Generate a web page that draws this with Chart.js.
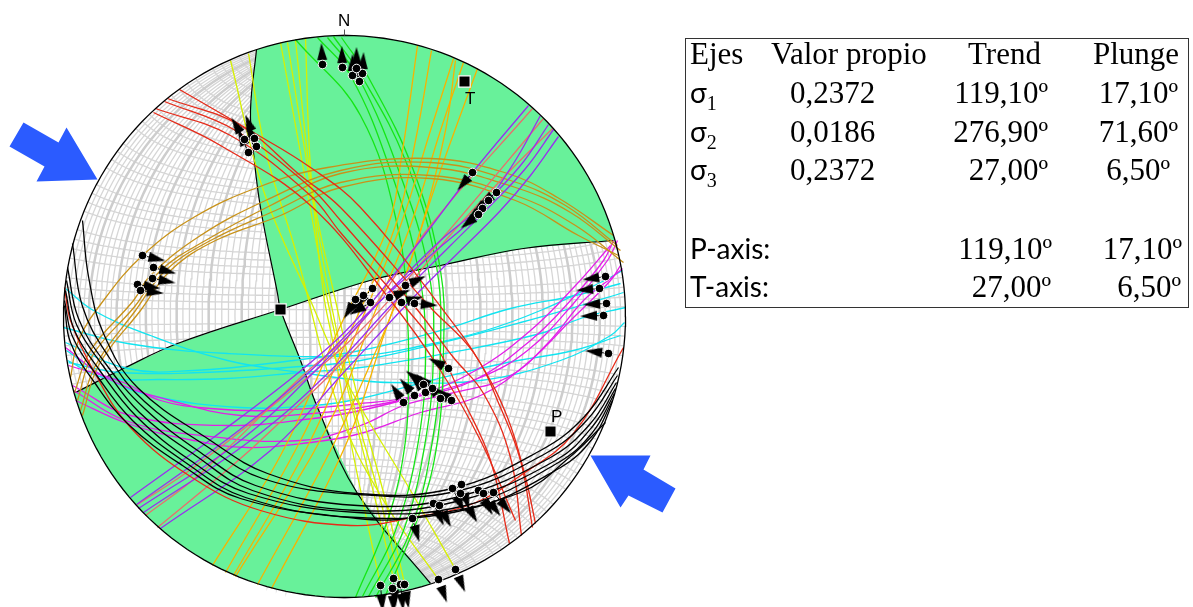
<!DOCTYPE html>
<html>
<head>
<meta charset="utf-8">
<title>Estereograma</title>
<script src="https://cdn.jsdelivr.net/npm/chart.js@4"></script>
<style>
  html, body { margin: 0; background: #fff; }
  #wrap { position: relative; width: 1193px; height: 607px; overflow: hidden; }
  #wrap span { position: absolute; white-space: pre; color: #000; }
  #box { position: absolute; left: 685px; top: 38px; width: 502px; height: 268px; border: 1.5px solid #333; }
  .serif { font-family: "Liberation Serif", serif; font-size: 31px; }
  .sans { font-family: "Lato", sans-serif; font-size: 28px; }
  .net { font-family: "Liberation Sans", sans-serif; font-size: 17px; }
  sub { font-size: 20px; line-height: 0; font-family: "Liberation Serif", serif; }
</style>
</head>
<body>
<div id="wrap">
  <canvas id="net" width="1193" height="607"></canvas>
  <div id="box"></div>
</div>
<script>
// fault planes, net units: centre 0,0, primitive radius 281, [x, y] pairs
const blackPlanes = [
  [[-262,96],[-256,40],[-241,-17],[-207,-71],[-134,-124],[-77,-157],[13,-177],[108,-172],[196,-134],[240,-100],[274,-51]],
  [[-272,73],[-262,10],[-236,-40],[-200,-85],[-139,-129],[-82,-162],[13,-178],[111,-175],[201,-137],[243,-103],[273,-59]],
  [[-277,49],[-266,-2],[-239,-47],[-200,-92],[-144,-136],[-89,-169],[13,-189],[111,-181],[206,-141],[246,-107],[272,-66]],
  [[-278,36],[-268,-8],[-241,-50],[-205,-96],[-149,-139],[-92,-174],[13,-194],[116,-184],[211,-144],[248,-110],[271,-72]],
  [[-279,26],[-270,-14],[-244,-55],[-208,-100],[-154,-144],[-96,-177],[13,-196],[121,-189],[214,-146],[248,-116],[270,-77]],
  [[-280,16],[-272,-20],[-247,-60],[-212,-104],[-159,-146],[-99,-181],[13,-201],[126,-192],[216,-151],[248,-122],[268,-84]],
  [[-280,11],[-274,-26],[-250,-66],[-216,-108],[-162,-149],[-104,-182],[13,-202],[68,-201],[176,-176],[226,-140],[261,-106]]
];
const redPlanes = [
  [[-165,227],[-91,184],[-34,149],[16,109],[99,6],[136,-47],[163,-101],[181,-161],[191,-207]],
  [[-177,218],[-104,191],[-44,141],[-4,109],[86,9],[129,-36],[156,-91],[176,-144],[188,-211]],
  [[-180,215],[-109,186],[-34,129],[-4,96],[71,9],[109,-41],[139,-77],[166,-141],[177,-219]],
  [[-189,208],[-114,181],[-34,121],[-4,84],[61,9],[93,-32],[119,-84],[146,-144],[165,-227]],
  [[-191,204],[-124,171],[-34,111],[46,16],[96,-54],[136,-124],[171,-204]],
  [[-280,29],[-274,-4],[-251,-54],[-214,-111],[-151,-162],[-84,-194],[6,-209],[68,-201],[129,-187],[176,-159],[229,-117],[279,-31]]
];
const cyanPlanes = [
  [[-281,-11],[-217,-27],[-117,-37],[16,-39],[79,-29],[141,-14],[196,6],[256,34],[278,46]],
  [[-279,-26],[-217,-52],[-151,-54],[-51,-44],[16,-34],[96,-14],[166,8],[231,21],[276,33]],
  [[-277,-44],[-241,-61],[-184,-63],[-117,-62],[-44,-56],[16,-51],[106,-36],[196,-17],[239,-1],[281,9]],
  [[-279,28],[-251,6],[-194,-19],[-117,-44],[-44,-56],[16,-64],[46,-66],[136,-64],[216,-44],[266,-19],[280,-6]],
  [[-278,-34],[-237,-62],[-194,-79],[-104,-91],[-31,-89],[16,-82],[86,-64],[163,-46],[229,-34],[276,-19]],
  [[-276,-46],[-224,-56],[-144,-56],[-44,-50],[16,-44],[106,-24],[176,-6],[236,11],[279,24]]
];
const magentaPlanes = [
  [[-279,-31],[-237,-62],[-174,-84],[-104,-99],[-31,-97],[16,-91],[69,-81],[129,-64],[186,-24],[226,16],[259,56],[269,76]],
  [[-272,-69],[-214,-99],[-117,-109],[-31,-102],[16,-94],[76,-79],[136,-61],[183,-34],[229,13],[263,56],[273,76]],
  [[-271,-74],[-219,-104],[-144,-119],[-44,-124],[16,-109],[59,-89],[106,-77],[163,-61],[203,-27],[239,16],[266,38],[278,48]],
  [[-269,-84],[-217,-107],[-151,-124],[-97,-131],[-34,-126],[16,-117],[76,-96],[136,-79],[186,-44],[226,-4],[266,36],[276,51]],
  [[-276,-49],[-221,-66],[-184,-84],[-134,-92],[-71,-94],[16,-87],[71,-79],[131,-54],[186,-14],[231,31],[266,71]]
];
const purplePlanes = [
  [[-214,-181],[-131,-121],[-41,-52],[13,-2],[76,76],[128,144],[184,211]],
  [[-208,-188],[-119,-124],[-39,-59],[26,6],[86,61],[133,103],[169,153],[196,201]],
  [[-206,-192],[-104,-124],[-24,-49],[41,21],[96,76],[138,111],[176,151],[204,192]],
  [[-201,-196],[-94,-124],[-19,-59],[51,16],[106,71],[146,111],[181,148],[209,187]],
  [[-184,-212],[-74,-134],[1,-54],[66,16],[116,66],[156,106],[186,141],[214,180]]
];
const salmonPlanes = [
  [[-199,-199],[-144,-157],[-44,-61],[16,-7],[86,91],[188,208]],
  [[-207,-188],[-151,-151],[-57,-77],[16,-14],[96,76],[199,198]],
  [[-187,-211],[-124,-159],[-84,-124],[16,-27],[101,76],[156,136],[208,188]]
];
const orangePlanes = [
  [[-132,-249],[-64,-139],[-4,-9],[43,89],[58,166],[73,271]],
  [[-119,-256],[-44,-124],[11,-4],[51,91],[71,176],[87,266]],
  [[-111,-259],[-34,-124],[21,6],[56,91],[86,186],[109,258]],
  [[-109,-260],[-19,-114],[31,6],[66,91],[96,186],[119,254]],
  [[-87,-268],[-14,-134],[36,-24],[56,26],[96,146],[133,248]],
  [[-73,-272],[1,-129],[41,-14],[76,86],[101,186],[111,256]]
];
const goldPlanes = [
  [[-274,-61],[-266,-24],[-241,16],[-202,61],[-151,99],[-87,129],[-17,149],[86,158],[163,143],[213,119],[269,81]],
  [[-270,-76],[-254,-34],[-211,16],[-194,41],[-144,81],[-79,116],[-4,146],[86,154],[166,136],[221,111],[273,71]],
  [[-267,-84],[-252,-39],[-209,11],[-184,46],[-139,76],[-74,111],[-4,143],[86,149],[171,129],[226,104],[276,66]],
  [[-264,-94],[-249,-49],[-209,6],[-179,46],[-134,76],[-69,106],[-4,134],[86,141],[171,121],[231,91],[279,54]],
  [[-262,-99],[-246,-49],[-204,6],[-174,46],[-129,76],[-64,101],[-4,129],[86,138],[171,116],[234,81],[274,61]]
];
const yellowPlanes = [
  [[-114,256],[-81,126],[-34,16],[3,-67],[66,-174],[111,-253]],
  [[-96,263],[-79,166],[-49,66],[-4,-97],[39,-184],[94,-263]],
  [[-64,274],[-39,136],[-19,26],[6,-84],[31,-184],[49,-262]],
  [[-57,274],[-34,131],[-14,16],[8,-84],[36,-184],[56,-268]],
  [[-49,276],[-32,126],[-9,16],[14,-84],[41,-184],[60,-267]],
  [[-39,278],[-34,149],[-21,23],[-12,-24],[6,-124],[36,-269]]
];
const greenPlanes = [
  [[-49,277],[16,201],[54,86],[63,-4],[64,-51],[61,-124],[44,-201],[11,-281]],
  [[-27,279],[6,241],[46,146],[74,46],[81,-34],[74,-124],[51,-214],[18,-280]],
  [[-17,279],[14,239],[56,141],[84,46],[89,-34],[81,-124],[59,-214],[24,-280]],
  [[-11,280],[18,239],[61,156],[91,56],[96,-34],[88,-124],[66,-214],[31,-281]],
  [[-3,279],[24,239],[69,146],[96,46],[99,-34],[93,-124],[76,-194],[41,-279]]
];

// nodal planes that bound the green lunes
const nodalNS = [[-88,267],[-94,206],[-91,164],[-84,109],[-67,23],[-64,7],[-44,-44],[-27,-91],[13,-177],[86,-267]];
const nodalEW = [[-269,-76],[-221,-52],[-167,-27],[-64,7],[29,37],[96,51],[179,68],[269,76]];

// slip data: dot position, trend of the arrow (deg), arrow length
const slipX = [-22,-2,8,15,18,12, -100,-90,-88,-96, -202,-191,-192,-207,-204, 128,152,144,138,134, 11,28,19,26,45,61,57,70, 104,79,70,81,59,96,107,88, 261,255,262,259,264, 108,117,116,134,139,149,89,95,68, 36,49,48,56,60,94,111];
const slipY = [252,249,241,235,243,248, 177,178,170,164, 61,49,38,32,26, 144,124,116,108,102, 17,28,21,14,19,31,14,13, -52,-68,-79,-76,-86,-82,-84,-72, 40,28,13,1,-37, -172,-168,-177,-174,-177,-176,-187,-189,-202, -269,-262,-272,-268,-268,-263,-253];
const slipTrend = [357,358,0,357,3,0, 329,339,336,335, 103,105,101,100,97, 220,234,230,230,232, 211,225,222,240,70,65,75,95, 297,308,319,320,326,318,307,310, 262,265,267,268,277, 153,163,150,150,143,140,155,152,164, 175,176,177,174,170,160,157];
const slipLength = [21,21,21,21,21,21, 25,25,25,25, 23,23,23,23,23, 23,22,22,22,22, 22,26,24,24,22,22,22,23, 22,22,22,22,22,22,20,22, 23,23,23,23,23, 26,26,33,28,28,27,24,24,24, 26,28,24,26,24,24,24];

// P and T axes + the third principal axis on the nodal planes crossing
const axisX = [120, 206, -64];
const axisY = [235, -115, 7];

const arrowNW = [[-321,194],[-286,174],[-278,189],[-247,137],[-308,135],[-300,150],[-335,170]];
const arrowSE = [[246,-139],[306,-139],[299,-153],[331,-172],[318,-196],[284,-179],[276,-191]];

const tableHead = ['Ejes', 'Valor propio', 'Trend', 'Plunge'];
const sigmaNames = ['1', '2', '3'];
const sigmaValues = ['0,2372', '0,0186', '0,2372'];
const sigmaTrend = ['119,10º', '276,90º', '27,00º'];
const sigmaPlunge = ['17,10º', '71,60º', '6,50º'];
const axisNames = ['P-axis:', 'T-axis:'];
const axisTrend = ['119,10º', '27,00º'];
const axisPlunge = ['17,10º', '6,50º'];

const R = 281;
const toPts = a => a.map(p => ({ x: p[0], y: p[1] }));

// Schmidt net: great circles and small circles around the N-S axis
function project(e, n, d) {
  const k = R / Math.sqrt(1 + d);
  return { x: e * k, y: n * k };
}
function netPoint(a, f) {
  const ar = a * Math.PI / 180;
  const fr = f * Math.PI / 180;
  return project(Math.cos(fr) * Math.cos(ar), Math.sin(fr), Math.cos(fr) * Math.sin(ar));
}
function gridLines(step, keep, limit) {
  const pts = [];
  const gap = { x: NaN, y: NaN };
  for (let a = step; a < 180; a += step) {
    if (!keep(a)) continue;
    for (let f = -limit; f <= limit; f += 2) pts.push(netPoint(a, f));
    pts.push(gap);
  }
  for (let f = -90 + step; f < 90; f += step) {
    if (!keep(f)) continue;
    for (let a = 0; a <= 180; a += 2) pts.push(netPoint(a, f));
    pts.push(gap);
  }
  return pts;
}
function rim(from, to) {
  // from/to in degrees, math convention
  const pts = [];
  const n = Math.ceil(Math.abs(to - from) / 2);
  for (let i = 0; i <= n; i++) {
    const a = (from + (to - from) * i / n) * Math.PI / 180;
    pts.push({ x: R * Math.cos(a), y: R * Math.sin(a) });
  }
  return pts;
}
function angleOf(p) {
  return Math.atan2(p[1], p[0]) * 180 / Math.PI;
}

function headMark() {
  const c = document.createElement('canvas');
  c.width = 10;
  c.height = 17;
  const g = c.getContext('2d');
  g.fillStyle = '#000';
  g.beginPath();
  g.moveTo(5, 0);
  g.lineTo(10, 17);
  g.lineTo(0, 17);
  g.closePath();
  g.fill();
  return c;
}

const sets = [];
function addPlanes(list, color) {
  for (const arc of list) {
    sets.push({ data: toPts(arc), borderColor: color, borderWidth: 1.3, tension: 0.4, pointRadius: 0, fill: false });
  }
}
function addShape(points, color) {
  sets.push({ data: points, borderWidth: 0, backgroundColor: color, fill: 'shape', tension: 0, pointRadius: 0 });
}

// order of this list = paint order
sets.push({ data: gridLines(2, v => v % 10 !== 0, 80), borderColor: '#d6d6d6', borderWidth: 1.3, pointRadius: 0, fill: false, tension: 0 });
sets.push({ data: gridLines(10, () => true, 90), borderColor: '#cdcdcd', borderWidth: 2.5, pointRadius: 0, fill: false, tension: 0 });

const greenColor = '#68f19a';
// upper lune: N-S plane down to the crossing, E-W plane out, rim back
addShape(
  toPts(nodalNS.slice(0, 6)).concat(toPts(nodalEW.slice(3))).concat(rim(angleOf(nodalEW[7]), angleOf(nodalNS[0]))),
  greenColor
);
// lower lune
addShape(
  toPts(nodalEW.slice(0, 4)).concat(toPts(nodalNS.slice(5))).concat(rim(angleOf(nodalNS[9]), angleOf(nodalEW[0]))),
  greenColor
);
for (const arc of [nodalNS, nodalEW]) {
  sets.push({ data: toPts(arc), borderColor: '#000', borderWidth: 1.2, tension: 0.4, pointRadius: 0, fill: false });
}

addPlanes(cyanPlanes, '#12e4f0');
addPlanes(magentaPlanes, '#e31fe8');
addPlanes(yellowPlanes, '#d6f000');
addPlanes(greenPlanes, '#14e614');
addPlanes(orangePlanes, '#f6b400');
addPlanes(goldPlanes, '#c8921a');
addPlanes(salmonPlanes, '#e96e6e');
addPlanes(purplePlanes, '#9a2ef0');
addPlanes(redPlanes, '#e62a18');
addPlanes(blackPlanes, '#000');

sets.push({ data: rim(0, 360), borderColor: '#000', borderWidth: 1.3, pointRadius: 0, fill: false, tension: 0 });
sets.push({
  data: toPts([[0,281],[0,287],[NaN,NaN],[0,-281],[0,-287],[NaN,NaN],[-281,0],[-287,0],[NaN,NaN],[281,0],[287,0]]),
  borderColor: '#555', borderWidth: 1, pointRadius: 0, fill: false, tension: 0
});

addShape(toPts(arrowNW), '#2b5bff');
addShape(toPts(arrowSE), '#2b5bff');

// slip arrows
const stems = [];
const heads = [];
for (let i = 0; i < slipX.length; i++) {
  const t = slipTrend[i] * Math.PI / 180;
  const l = slipLength[i] - 8;
  const hx = slipX[i] + l * Math.sin(t);
  const hy = slipY[i] + l * Math.cos(t);
  stems.push({ x: slipX[i], y: slipY[i] }, { x: hx, y: hy }, { x: NaN, y: NaN });
  heads.push({ x: hx, y: hy });
}
sets.push({ data: stems, borderColor: '#000', borderWidth: 1, pointRadius: 0, fill: false, tension: 0 });
sets.push({ data: heads, showLine: false, pointStyle: headMark(), pointRadius: 5, pointRotation: slipTrend });
sets.push({
  data: slipX.map((x, i) => ({ x, y: slipY[i] })),
  showLine: false, pointStyle: 'circle', pointRadius: 4.3,
  pointBackgroundColor: '#000', pointBorderColor: '#fff', pointBorderWidth: 1
});
sets.push({
  data: axisX.map((x, i) => ({ x, y: axisY[i] })),
  showLine: false, pointStyle: 'rect', pointRadius: 8,
  pointBackgroundColor: '#000', pointBorderColor: '#fff', pointBorderWidth: 1.2
});

sets.forEach((s, i) => { s.order = sets.length - i; });

new Chart(document.getElementById('net').getContext('2d'), {
  type: 'line',
  data: { datasets: sets },
  options: {
    responsive: false,
    animation: false,
    events: [],
    parsing: false,
    normalized: false,
    layout: { padding: 0, autoPadding: false },
    plugins: { legend: { display: false }, tooltip: { enabled: false } },
    scales: {
      x: { type: 'linear', min: -344.5, max: 848.5, display: false },
      y: { type: 'linear', min: -290.5, max: 316.5, display: false }
    }
  }
});

// text
const wrap = document.getElementById('wrap');
function put(text, cls, x, base, align, ascent) {
  const s = document.createElement('span');
  s.className = cls;
  s.innerHTML = text;
  wrap.appendChild(s);
  const asc = ascent === undefined ? 27.6 : ascent;
  s.style.top = (base - asc) + 'px';
  if (align === 'right') s.style.right = (1193 - x) + 'px';
  else s.style.left = x + 'px';
}
const headX = [690, 771, 968, 1093];
tableHead.forEach((t, i) => put(t, 'serif', headX[i], 64));
const rowBase = [103, 142, 180];
const valX = [790, 790, 790];
const trendRight = [1048, 1048, 1048];
const plungeRight = [1178, 1178, 1170];
sigmaNames.forEach((n, i) => {
  put('σ<sub>' + n + '</sub>', 'sans', 690, rowBase[i], 'left', 28);
  put(sigmaValues[i], 'serif', valX[i], rowBase[i]);
  put(sigmaTrend[i], 'serif', trendRight[i], rowBase[i], 'right');
  put(sigmaPlunge[i], 'serif', plungeRight[i], rowBase[i], 'right');
});
const axisBase = [259, 297];
const axisTrendRight = [1052, 1051];
const axisPlungeRight = [1182, 1181];
axisNames.forEach((n, i) => {
  put(n, 'sans', 690, axisBase[i], 'left', 28);
  put(axisTrend[i], 'serif', axisTrendRight[i], axisBase[i], 'right');
  put(axisPlunge[i], 'serif', axisPlungeRight[i], axisBase[i], 'right');
});
put('N', 'net', 338, 26, 'left', 15.5);
put('T', 'net', 465, 104, 'left', 15.5);
put('P', 'net', 551, 422, 'left', 15.5);
</script>
</body>
</html>
